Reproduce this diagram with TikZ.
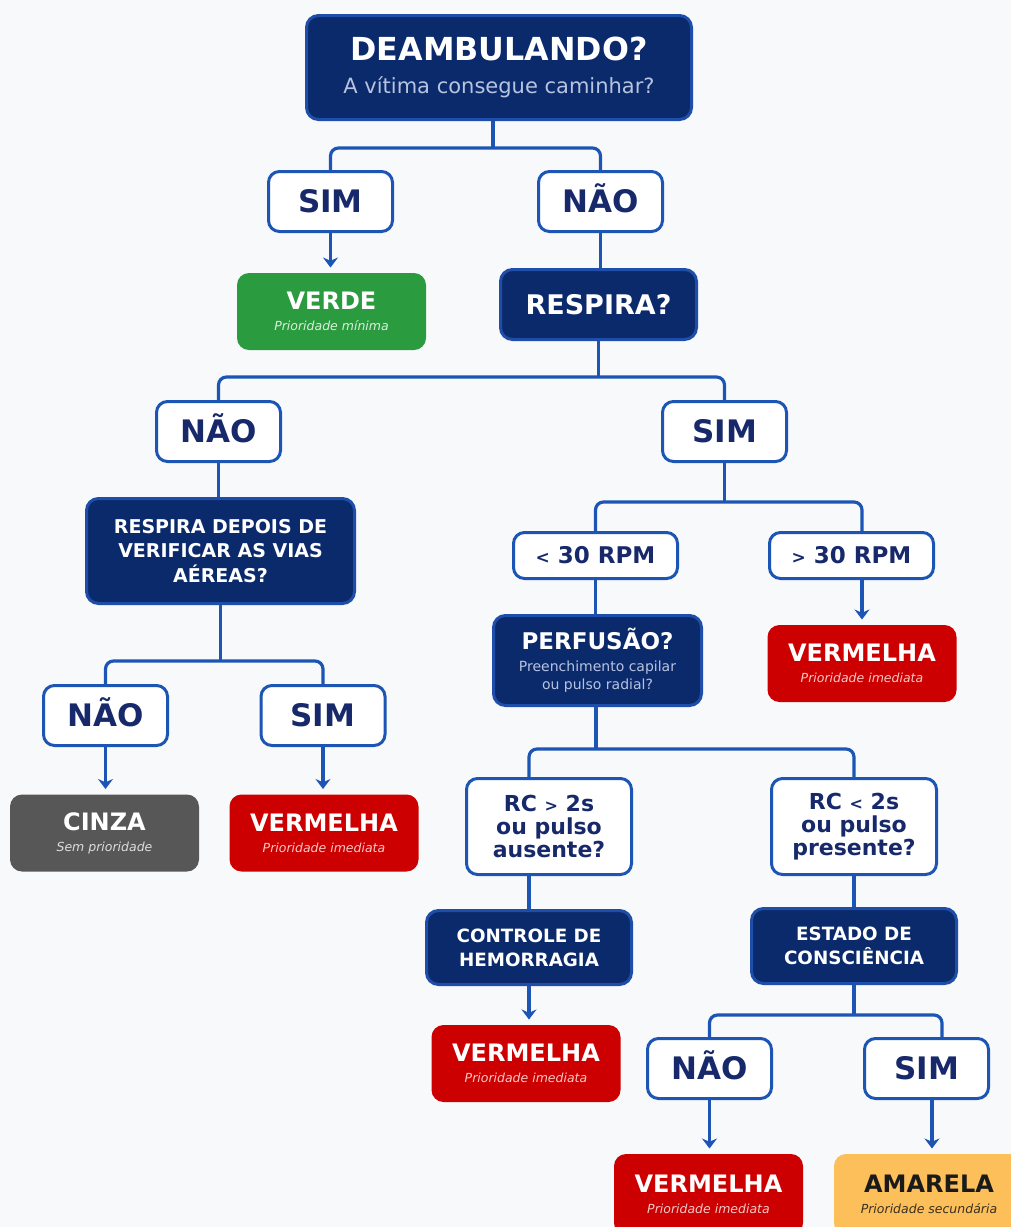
\documentclass[tikz,border=0pt]{standalone}
\usepackage{fontspec}
\setmainfont{DejaVu Sans}
\usetikzlibrary{arrows.meta}
\definecolor{bg}{HTML}{F8F9FA}
\definecolor{navy}{HTML}{0B2A6C}
\definecolor{navyedge}{HTML}{1F4EAA}
\definecolor{lineblue}{HTML}{1D55B4}
\definecolor{lbltext}{HTML}{17296A}
\definecolor{subnavy}{HTML}{B8C3E0}
\definecolor{grn}{HTML}{2A9B3E}
\definecolor{rd}{HTML}{CC0000}
\definecolor{gry}{HTML}{575757}
\definecolor{amb}{HTML}{FDBF5A}
\definecolor{subgrn}{HTML}{D9EFDC}
\definecolor{subred}{HTML}{F4C9C9}
\definecolor{subgry}{HTML}{DDDDDD}
\definecolor{ambtext}{HTML}{1A1A1A}
\definecolor{subamb}{HTML}{3A3020}
\newcommand{\restitle}[1]{{\fontsize{24}{24}\selectfont\bfseries\upshape #1}}
\tikzset{
  box/.style={rounded corners=12pt, inner sep=0pt, align=center, line width=3pt},
  navybox/.style={box, fill=navy, draw=navyedge, text=white},
  lblbox/.style={box, rounded corners=11pt, fill=white, draw=lineblue, text=lbltext},
  answer/.style={lblbox, minimum width=124pt, minimum height=60pt,
    font=\fontsize{31}{31}\selectfont\bfseries, text height=22.6pt, text depth=0pt},
  rpm/.style={lblbox, minimum width=164pt, minimum height=46pt,
    font=\fontsize{23}{23}\selectfont\bfseries, text height=16.8pt, text depth=0pt},
  rcbox/.style={lblbox, minimum width=165pt, minimum height=96pt,
    font=\fontsize{22}{23}\selectfont\bfseries},
  result/.style={box, draw=none, minimum width=189pt, minimum height=77pt,
    text=white, font=\fontsize{12.5}{21}\selectfont\itshape},
  conn/.style={draw=lineblue, line width=3.2pt, rounded corners=8pt},
  arr/.style={conn, -{Stealth[length=10pt,width=15pt]}, shorten >=4pt},
}
\begin{document}
\begin{tikzpicture}[x=1pt,y=-1pt]
\fill[bg] (0,0) rectangle (1011,1227);
\useasboundingbox (0,0) rectangle (1011,1227);

% ---- nodes ----
\node[navybox, minimum width=385pt, minimum height=104pt, text=subnavy,
  font=\fontsize{21}{32.5}\selectfont] (top) at (499,67.5)
  {{\fontsize{31.7}{32}\selectfont\bfseries\color{white}DEAMBULANDO?}\\A vítima consegue caminhar?};

\node[answer] (sim1) at (330.5,201.5) {SIM};
\node[answer] (nao1) at (600.5,201.5) {NÃO};

\node[result, fill=grn] (verde) at (331.5,311.5)
  {\restitle{VERDE}\\{\color{subgrn}Prioridade mínima}};

\node[navybox, minimum width=196pt, minimum height=70pt,
  font=\fontsize{27}{27}\selectfont\bfseries, text height=19.7pt, text depth=0pt]
  (resp) at (598.5,304.5) {RESPIRA?};

\node[answer] (nao2) at (218.5,431.5) {NÃO};
\node[answer] (sim2) at (724.5,431.5) {SIM};

\node[navybox, minimum width=268pt, minimum height=105pt,
  font=\fontsize{19}{24.5}\selectfont\bfseries] (respdep) at (220.5,551)
  {RESPIRA DEPOIS DE\\VERIFICAR AS VIAS\\AÉREAS?};

\node[answer] (nao3) at (105.5,715.5) {NÃO};
\node[answer] (sim3) at (323,715.5) {SIM};

\node[result, fill=gry] (cinza) at (104.5,833)
  {\restitle{CINZA}\\{\color{subgry}Sem prioridade}};
\node[result, fill=rd] (verm1) at (324,833)
  {\restitle{VERMELHA}\\{\color{subred}Prioridade imediata}};

\node[rpm] (lt30) at (595.5,555.5) {{\fontsize{17}{17}\selectfont<} 30 RPM};
\node[rpm] (gt30) at (851.5,555.5) {{\fontsize{17}{17}\selectfont>} 30 RPM};

\node[navybox, minimum width=208pt, minimum height=90pt, text=subnavy,
  font=\fontsize{14}{18}\selectfont] (perf) at (597.5,660.5)
  {{\fontsize{23}{23}\selectfont\bfseries\color{white}PERFUSÃO?}\\[3.6pt]Preenchimento capilar\\ou pulso radial?};

\node[result, fill=rd] (verm2) at (862,663.5)
  {\restitle{VERMELHA}\\{\color{subred}Prioridade imediata}};

\node[rcbox] (rcgt) at (549,826.5) {RC {\fontsize{16}{16}\selectfont>} 2s\\ou pulso\\ausente?};
\node[rcbox] (rclt) at (854,826.5) {RC {\fontsize{16}{16}\selectfont<} 2s\\ou pulso\\presente?};

\node[navybox, minimum width=205pt, minimum height=74pt,
  font=\fontsize{18.3}{24}\selectfont\bfseries] (ctrl) at (529,947.5)
  {CONTROLE DE\\HEMORRAGIA};
\node[navybox, minimum width=205pt, minimum height=75pt,
  font=\fontsize{18.3}{24}\selectfont\bfseries] (estado) at (854,946)
  {ESTADO DE\\CONSCIÊNCIA};

\node[result, fill=rd] (verm3) at (526,1063.5)
  {\restitle{VERMELHA}\\{\color{subred}Prioridade imediata}};

\node[answer] (nao4) at (709.5,1068.5) {NÃO};
\node[answer] (sim4) at (926.5,1068.5) {SIM};

\node[result, fill=rd, minimum height=81pt] (verm4) at (708.5,1194.5)
  {\restitle{VERMELHA}\\{\color{subred}Prioridade imediata}};
\node[result, fill=amb, minimum width=190pt, minimum height=81pt, text=ambtext] (amar) at (929,1194.5)
  {\restitle{AMARELA}\\{\color{subamb}Prioridade secundária}};

% ---- junctions ----
\coordinate (j1) at (493,148);
\coordinate (j2) at (resp.south |- 0,377);
\coordinate (j3) at (sim2.south |- 0,502);
\coordinate (j4) at (respdep.south |- 0,661);
\coordinate (j5) at (596,749);
\coordinate (j6) at (estado.south |- 0,1015);
\coordinate (s4in) at (942,1015);
\coordinate (s4out) at (932,1100);

% ---- connectors ----
\draw[conn] (j1 |- top.south) -- (j1);
\draw[conn] (sim1.north) |- (j1) -| (nao1.north);
\draw[arr] (sim1.south) -- (sim1.south |- verde.north);
\draw[conn] (nao1.south) -- (nao1.south |- resp.north);

\draw[conn] (resp.south) -- (j2);
\draw[conn] (nao2.north) |- (j2) -| (sim2.north);
\draw[conn] (nao2.south) -- (nao2.south |- respdep.north);

\draw[conn] (respdep.south) -- (j4);
\draw[conn] (nao3.north) |- (j4) -| (sim3.north);
\draw[arr] (nao3.south) -- (nao3.south |- cinza.north);
\draw[arr] (sim3.south) -- (sim3.south |- verm1.north);

\draw[conn] (sim2.south) -- (j3);
\draw[conn] (lt30.north) |- (j3) -| (verm2.north |- gt30.north);
\draw[arr] (verm2.north |- gt30.south) -- (verm2.north);
\draw[conn] (lt30.south) -- (lt30.south |- perf.north);

\draw[conn] (j5 |- perf.south) -- (j5);
\draw[conn] (ctrl.north |- rcgt.north) |- (j5) -| (rclt.north);
\draw[conn] (ctrl.north |- rcgt.south) -- (ctrl.north);
\draw[conn] (rclt.south) -- (rclt.south |- estado.north);
\draw[arr] (ctrl.south) -- (ctrl.south |- verm3.north);

\draw[conn] (estado.south) -- (j6);
\draw[conn] (nao4.north) |- (j6) -| (s4in |- sim4.north);
\draw[arr] (nao4.south) -- (nao4.south |- verm4.north);
\draw[arr] (s4out |- sim4.south) -- (s4out |- amar.north);
\end{tikzpicture}
\end{document}
